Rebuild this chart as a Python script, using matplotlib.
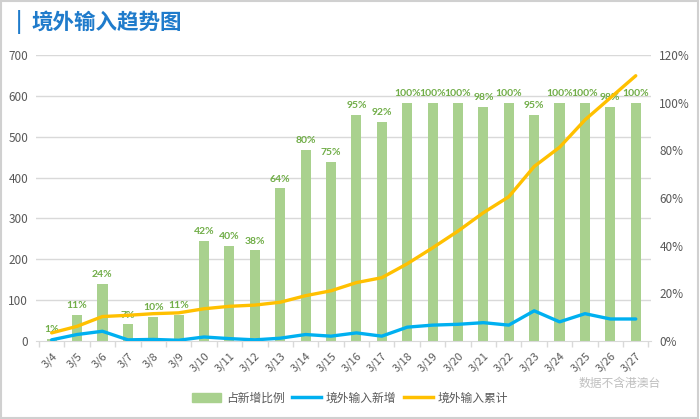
import matplotlib
matplotlib.use("Agg")
import matplotlib.pyplot as plt
from matplotlib.patches import Rectangle
from matplotlib.lines import Line2D
from matplotlib.ticker import FixedLocator, NullFormatter

plt.rcParams['font.family'] = ['Noto Sans CJK SC', 'DejaVu Sans']

dates = ['3/4', '3/5', '3/6', '3/7', '3/8', '3/9', '3/10', '3/11', '3/12', '3/13', '3/14', '3/15',
         '3/16', '3/17', '3/18', '3/19', '3/20', '3/21', '3/22', '3/23', '3/24', '3/25', '3/26', '3/27']
share_pct = [1, 11, 24, 7, 10, 11, 42, 40, 38, 64, 80, 75, 95, 92, 100, 100, 100, 98, 100, 95, 100, 100, 98, 100]
new_imported = [3, 16, 24, 3, 4, 2, 10, 6, 3, 7, 16, 12, 20, 12, 34, 39, 41, 45, 39, 74, 47, 67, 54, 54]
cum_imported = [20, 36, 60, 63, 67, 69, 79, 85, 88, 95, 111, 123, 143, 155, 189, 228, 269, 314, 353, 427, 474, 541, 595, 649]

left_ticks = [0, 100, 200, 300, 400, 500, 600, 700]
right_ticks = [0, 20, 40, 60, 80, 100, 120]

c_bar = '#A9D18E'
c_lbl = '#70AD47'
c_blue = '#00B0F0'
c_yel = '#FFC000'
c_txt = '#595959'
c_grid = '#D9D9D9'

fig = plt.figure(figsize=(7.0, 4.19), dpi=100)
fig.patch.set_facecolor('white')
fig.add_artist(Rectangle((0.002, 0.003), 0.995, 0.994, transform=fig.transFigure,
                         fill=False, edgecolor='#D0D0D0', linewidth=1.5))

ax = fig.add_axes([0.052, 0.186, 0.878, 0.683])
ax2 = ax.twinx()

x = list(range(len(dates)))

# bars on right (percent) axis
ax2.bar(x, share_pct, width=0.4, color=c_bar, zorder=1)
for xi, v in zip(x, share_pct):
    ax2.annotate(f'{v}%', (xi, v), xytext=(0, 3.5), textcoords='offset points',
                 ha='center', va='bottom', fontsize=7.5, fontweight='bold', color=c_lbl,
                 family=['Lato', 'DejaVu Sans'])
ax2.set_ylim(0, 120)
ax2.set_yticks(right_ticks)
ax2.set_yticklabels([f'{t}%' for t in right_ticks], fontsize=8.5, color=c_txt)

# lines on left axis
ax.set_zorder(ax2.get_zorder() + 1)
ax.patch.set_visible(False)
ax.plot(x, new_imported, color=c_blue, linewidth=2.4, solid_capstyle='round', zorder=3)
ax.plot(x, cum_imported, color=c_yel, linewidth=2.4, solid_capstyle='round', zorder=3)
ax.set_ylim(0, 700)
ax.set_yticks(left_ticks)
ax.set_yticklabels([str(t) for t in left_ticks], fontsize=8.5, color=c_txt)
ax.set_xlim(-0.6, len(dates) - 0.4)
ax.set_xticks(x)
ax.set_xticklabels(dates, rotation=45, fontsize=8, color=c_txt, ha='right', rotation_mode='anchor')
ax.xaxis.set_minor_locator(FixedLocator([i + 0.5 for i in range(-1, len(dates))]))
ax.xaxis.set_minor_formatter(NullFormatter())
ax.tick_params(axis='x', which='major', length=0, pad=7)
ax.tick_params(axis='x', which='minor', length=4, color=c_grid, width=1)
ax.tick_params(axis='y', length=0, pad=6)
ax2.tick_params(axis='y', length=0, pad=6)

for a in (ax, ax2):
    for s in a.spines.values():
        s.set_visible(False)
ax.spines['bottom'].set_visible(True)
ax.spines['bottom'].set_color(c_grid)

for t in left_ticks[1:]:
    ax2.axhline(t * 120 / 700, color=c_grid, linewidth=1, zorder=0)

# title
fig.text(0.022, 0.947, '|', fontsize=15, color='#1F7BCB', fontweight='bold', va='center', ha='left')
fig.text(0.045, 0.947, '境外输入趋势图', fontsize=15.5, color='#1F7BCB', fontweight='bold', va='center', ha='left')

# note
fig.text(0.885, 0.085, '数据不含港澳台', fontsize=8.5, color='#BFBFBF', ha='center', va='center')

# legend
handles = [Rectangle((0, 0), 1, 1, color=c_bar),
           Line2D([0], [0], color=c_blue, linewidth=2.5),
           Line2D([0], [0], color=c_yel, linewidth=2.5)]
labels = ['占新增比例', '境外输入新增', '境外输入累计']
fig.legend(handles, labels, loc='center', bbox_to_anchor=(0.5, 0.05), ncol=3, frameon=False,
           fontsize=8.5, labelcolor=c_txt, handlelength=2.5, columnspacing=0.6, handletextpad=0.4)

fig.savefig('out.png', dpi=100, facecolor='white')
